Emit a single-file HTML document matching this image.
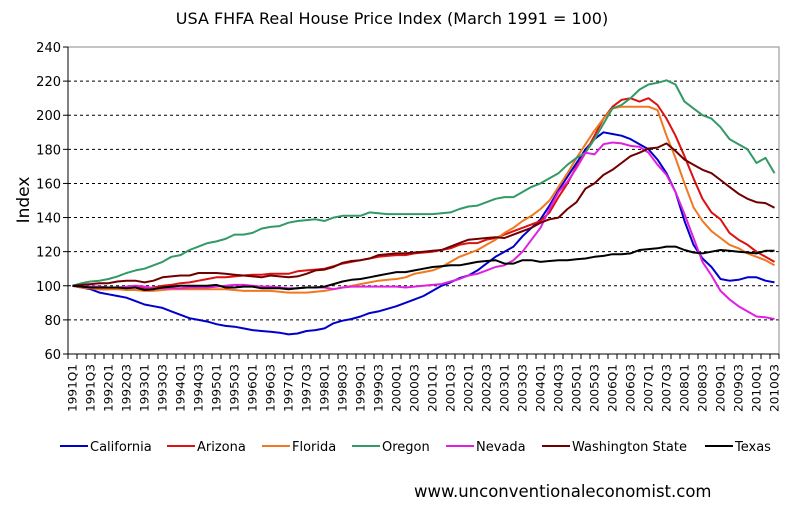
<!DOCTYPE html>
<html><head><meta charset="utf-8"><style>
html,body{margin:0;padding:0;background:#fff;}
svg{display:block;font-family:"DejaVu Sans","Liberation Sans",sans-serif;}
</style></head><body>
<svg id="chart" width="800" height="519" viewBox="0 0 800 519" xmlns="http://www.w3.org/2000/svg">
<rect width="800" height="519" fill="#fff"/>
<text x="392" y="24" text-anchor="middle" font-size="16">USA FHFA Real House Price Index (March 1991 = 100)</text>
<text transform="translate(29,200) rotate(-90)" text-anchor="middle" font-size="17">Index</text>
<g id="grid"></g><g id="axes"></g><g id="series"></g><g id="legend"></g>
<text x="414" y="497" font-size="16.5">www.unconventionaleconomist.com</text>
</svg>
<script>
const startYear = 1991;
const quarterCount = 79;
const yTicks = [60,80,100,120,140,160,180,200,220,240];
const seriesNames = ["California","Arizona","Florida","Oregon","Nevada","Washington State","Texas"];
const seriesColors = ["#0000cc","#dd1111","#f07820","#339966","#e020e0","#700000","#000000"];
const california = [100,99,98,96,95,94,93,91,89,88,87,85,83,81,80,79,77.5,76.5,76,75,74,73.5,73,72.5,71.5,72,73.5,74,75,78,79.5,80.5,82,84,85,86.5,88,90,92,94,97,100,102,104.5,106,109,113,117,120,123,129,134,139,147,156,164,172,180,186,190,189,188,186,183,180,174,166,155,138,124,116,111,104,103,103.5,105,105,103,102];
const arizona = [100,99,98.5,98,98,98.5,99,99,98.5,99,100,100.5,101.5,102,103,104,105,105,105.5,106,106.5,106.5,107,107,107,108.5,109,109.5,110,111.5,113,114,115,116,117,117.5,118,118,119,119.5,120,121,122,124,125,125,127,128,130,132,134,136,138,143,152,160,170,178,188,198,205,209,210,208,210,206,198,188,176,163,151,143,139,131,127,124,120,117,114];
const florida = [100,99,98.5,98,98,98,97.5,97.5,97,97,97.5,98,98,98,98,98,98,98,97.5,97,97,97,97,96.5,96,96,96,96.5,97,98,99,100,101,102,103,103.5,104,105,107,108,109,111,114,117,119,121,124,127,131,134,138,141,145,150,158,166,175,183,191,198,204,205,205,205,205,203,188,175,160,146,138,132,128,124,122,119,117,115,112];
const oregon = [100,101.5,102.5,103,104,105.5,107.5,109,110,112,114,117,118,121,123,125,126,127.5,130,130,131,133.5,134.5,135,137,138,138.5,139,138,140,141,141,141,143,142.5,142,142,142,142,142,142,142.5,143,145,146.5,147,149,151,152,152,155,158,160,163,166,171,175,178,186,195,204,206,210,215,218,219,220.5,218,208,204,200,198,193,186,183,180,172,175,166];
const nevada = [100,99.5,99.5,99.5,99,99,99.5,100,99.5,98.5,98.5,98.5,98.5,99,99,99,99.5,100,100.5,100.5,100,99.5,99.5,99,98.5,98.5,99,99,99,98,99,99.5,99.5,99.5,99.5,99.5,99.5,99,99.5,100,100.5,101,102.5,104,106,107,109,111,112,115,120,127,134,145,155,161,169,178,177,183,184,183.5,182,181.5,178,171,165,155,142,128,114,106,97,92,88,85,82,81.5,80.5];
const washington = [100,100.5,101,101.5,101.5,102.5,103,103,102,103,105,105.5,106,106,107.5,107.5,107.5,107,106.5,106,105.5,105,106,105.5,105,105.5,107,109,109.5,111,113.5,114.5,115,116,118,118.5,119,119,119.5,120,120.5,121,123,125,127,127.5,128,128.5,128,130,132,134,137,139,140,145,149,157,160,165,168,172,176,178,180.5,181,183.5,179,174,171,168,166,162,158,154,151,149,148.5,145.7];
const texas = [100,99.5,99,99,99,99,98.5,99,97.5,98,99,99.5,100,100,100,100,100.5,99,99,99.5,99.5,98.5,98.5,98.5,98,98.5,99,99,99.5,101,102.5,103.5,104,105,106,107,108,108,109,110,111,111.5,112,112,113,114,114.5,115,113,113,115,115,114,114.5,115,115,115.5,116,117,117.5,118.5,118.5,119,121,121.5,122,123,123,121,119.5,119,120,121,120.5,120,119.5,119,120.5,120.5];
const seriesData = [california, arizona, florida, oregon, nevada, washington, texas];

const NS = "http://www.w3.org/2000/svg";
const L = 68, R = 779, T = 47, B = 354;
const yMin = 60, yMax = 240;
const step = (R - L) / quarterCount;
function xScale(i){ return L + step * (i + 0.5); }
function yScale(v){ return B - (v - yMin) / (yMax - yMin) * (B - T); }
function mk(tag, attrs, parent){ const e = document.createElementNS(NS, tag); for (const k in attrs) e.setAttribute(k, attrs[k]); parent.appendChild(e); return e; }

const grid = document.getElementById("grid");
const axes = document.getElementById("axes");
yTicks.forEach(v => {
  const y = yScale(v);
  if (v > yMin && v < yMax) {
    const g = mk("line", {x1:L, x2:R, y1:y, y2:y, stroke:"#000", "stroke-width":1, "stroke-dasharray":"3,3"}, grid);
    
    
  }
  const t = mk("line", {x1:L-5, x2:L, y1:y, y2:y, stroke:"#000"}, axes);
  
  
  const lab = mk("text", {x:L-7, y:y+5, "text-anchor":"end", "font-size":"13"}, axes);
  lab.textContent = v;
  
  
});
const frame = mk("path", {d:`M${L},${T}H${R}V${B}`, fill:"none", stroke:"#888"}, axes);


const yAxis = mk("line", {x1:L, x2:L, y1:T, y2:B, stroke:"#000"}, axes);


const xAxis = mk("line", {x1:L-5, x2:R, y1:B, y2:B, stroke:"#000"}, axes);


for (let i = 0; i <= quarterCount; i++) {
  const x = L + step * i;
  const tk = mk("line", {x1:x, x2:x, y1:B, y2:B+5, stroke:"#000"}, axes);
  
  
}
for (let i = 0; i < quarterCount; i += 2) {
  const yr = startYear + Math.floor(i / 4);
  const q = (i % 4) + 1;
  const x = xScale(i) + 4;
  const lab = mk("text", {transform:`translate(${x},${B+10}) rotate(-90)`, "text-anchor":"end", "font-size":"11.5", textLength:"48", lengthAdjust:"spacingAndGlyphs"}, axes);
  lab.textContent = yr + "Q" + q;
  
  
}

const sg = document.getElementById("series");
seriesData.forEach((arr, s) => {
  const d = arr.map((v, i) => (i ? "L" : "M") + xScale(i).toFixed(1) + "," + yScale(v).toFixed(1)).join("");
  const p = mk("path", {d, fill:"none", stroke:seriesColors[s], "stroke-width":2, "stroke-linejoin":"round"}, sg);
  
  
});

const lg = document.getElementById("legend");
const legendX = [60, 167, 262, 352, 446, 542, 705];
seriesNames.forEach((n, s) => {
  const g = mk("g", {}, lg);
  
  
  mk("line", {x1:legendX[s], x2:legendX[s]+28, y1:446, y2:446, stroke:seriesColors[s], "stroke-width":2}, g);
  const t = mk("text", {x:legendX[s]+30, y:451, "font-size":"13"}, g);
  t.textContent = n;
});
</script>
</body></html>
